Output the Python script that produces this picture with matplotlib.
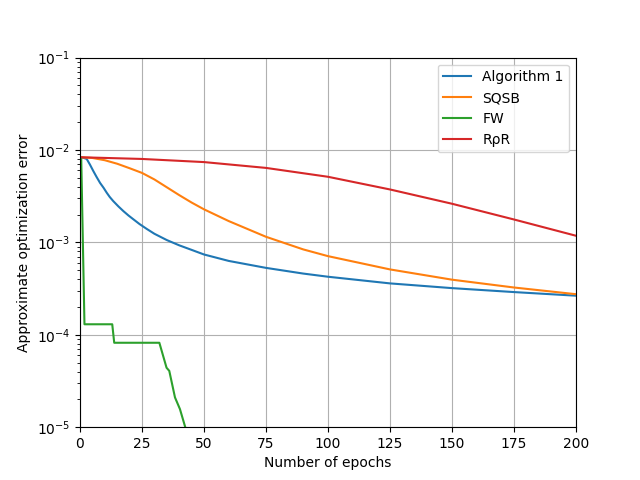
import matplotlib
matplotlib.use("Agg")
import matplotlib.pyplot as plt

# values (epoch, error)
alg1_epochs = [0, 1.3, 2.7, 4, 5.4, 6.7, 8.1, 9.5, 10.8, 12, 13.4, 15.5, 17.5, 19.5,
               21.5, 24, 26.9, 30, 35, 40, 45, 50, 60, 75, 90, 100, 125, 150, 175, 200]
alg1_err = [8.35e-3, 8.25e-3, 8.0e-3, 6.96e-3, 5.9e-3, 5.1e-3, 4.4e-3, 3.9e-3, 3.44e-3,
            3.1e-3, 2.8e-3, 2.45e-3, 2.18e-3, 1.96e-3, 1.78e-3, 1.58e-3, 1.4e-3,
            1.24e-3, 1.06e-3, 9.3e-4, 8.3e-4, 7.4e-4, 6.3e-4, 5.3e-4, 4.6e-4, 4.25e-4,
            3.6e-4, 3.2e-4, 2.9e-4, 2.65e-4]

sqsb_epochs = [0, 5, 10, 15, 20, 25, 30, 35, 40, 45, 50, 60, 75, 90, 100, 125, 150,
               175, 200]
sqsb_err = [8.35e-3, 8.2e-3, 7.75e-3, 7.1e-3, 6.35e-3, 5.65e-3, 4.8e-3, 3.95e-3, 3.25e-3,
            2.7e-3, 2.28e-3, 1.7e-3, 1.15e-3, 8.4e-4, 7.1e-4, 5.1e-4, 3.95e-4, 3.25e-4,
            2.75e-4]

fw_epochs = [0, 0.5, 1.8, 13.0, 13.8, 32.0, 34.9, 36.0, 38.3, 40.3, 42.3, 44.0]
fw_err = [8.35e-3, 8.0e-3, 1.3e-4, 1.3e-4, 8.2e-5, 8.2e-5, 4.4e-5, 4.07e-5, 2.1e-5,
          1.57e-5, 1.03e-5, 7.5e-6]

rpr_epochs = [0, 25, 50, 75, 100, 125, 150, 175, 200]
rpr_err = [8.35e-3, 8.0e-3, 7.4e-3, 6.4e-3, 5.13e-3, 3.74e-3, 2.62e-3, 1.77e-3, 1.18e-3]

fig, ax = plt.subplots(figsize=(6.4, 4.8), dpi=100)
ax.plot(alg1_epochs, alg1_err, label="Algorithm 1")
ax.plot(sqsb_epochs, sqsb_err, label="SQSB")
ax.plot(fw_epochs, fw_err, label="FW")
ax.plot(rpr_epochs, rpr_err, label="RρR")
ax.set_yscale("log")
ax.set_xlim(0, 200)
ax.set_ylim(1e-5, 1e-1)
ax.set_xlabel("Number of epochs")
ax.set_ylabel("Approximate optimization error")
ax.grid(True)
ax.legend(loc="upper right")
fig.savefig("out.png", dpi=100)
